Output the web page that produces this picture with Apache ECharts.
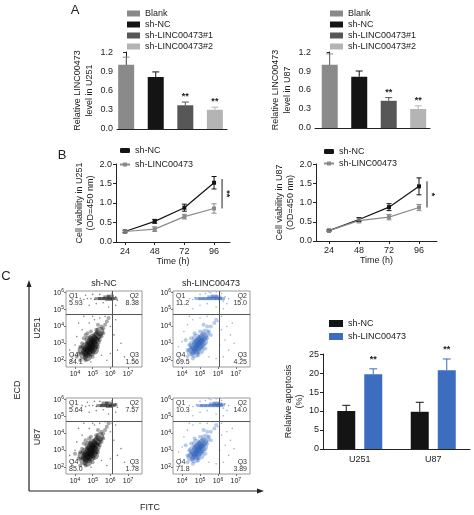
<!DOCTYPE html>
<html><head><meta charset="utf-8">
<script src="https://cdn.jsdelivr.net/npm/echarts@6/dist/echarts.min.js"></script>
<style>html,body{margin:0;padding:0;background:#fff}#c{width:474px;height:515px}</style>
</head><body><div id="c"></div>
<script>
// ---------- DATA ----------
const catsA = ['Blank', 'sh-NC', 'sh-LINC00473#1', 'sh-LINC00473#2'];
const relU251 = [1.00, 0.81, 0.37, 0.30];
const errU251 = [0.12, 0.08, 0.05, 0.04];
const sigU251 = ['', '', '**', '**'];
const relU87 = [1.00, 0.81, 0.43, 0.30];
const errU87 = [0.17, 0.09, 0.05, 0.05];
const sigU87 = ['', '', '**', '**'];
const ticksA = [0, 0.3, 0.6, 0.9, 1.2];

const hours = [24, 48, 72, 96];
const ncU251 = [0.27, 0.53, 0.88, 1.52];
const ncU251Err = [0.03, 0.05, 0.09, 0.16];
const kdU251 = [0.27, 0.33, 0.65, 0.86];
const kdU251Err = [0.02, 0.06, 0.06, 0.12];
const ncU87 = [0.27, 0.56, 0.88, 1.42];
const ncU87Err = [0.02, 0.05, 0.09, 0.22];
const kdU87 = [0.27, 0.53, 0.62, 0.87];
const kdU87Err = [0.02, 0.06, 0.07, 0.08];
const sigB = ['**', '*'];
const ticksB = [0, 0.5, 1.0, 1.5, 2.0];

const apopCats = ['U251', 'U87'];
const apopNC = [10.0, 9.8];
const apopNCErr = [1.5, 2.5];
const apopKD = [19.7, 20.7];
const apopKDErr = [1.4, 3.0];
const sigC = ['**', '**'];
const ticksC = [0, 5, 10, 15, 20, 25];

// flow cytometry: quadrant percentages [Q1, Q2, Q3, Q4]
const quadNCU251 = [5.93, 8.38, 1.56, 84.1];
const quadKDU251 = [11.2, 15.0, 4.25, 69.5];
const quadNCU87 = [5.64, 7.57, 1.78, 85.0];
const quadKDU87 = [10.3, 14.0, 3.89, 71.8];
const gateFITC = 6.08;   // log10
const gateECD = 4.75;    // log10
const flowXTicks = [4, 5, 6, 7];
const flowYTicks = [2, 3, 4, 5, 6];

// events (log10 FITC, log10 ECD) estimated from the dot plots: dense / medium / sparse / top band
const ncU251Dense = [[4.5,2.3],[4.6,2.5],[4.7,2.4],[4.7,2.7],[4.8,2.6],[4.8,2.9],[4.9,2.5],[4.9,2.8],[4.9,3.1],[5.0,2.7],[5.0,3.0],[5.1,2.9],[5.1,3.2],[5.2,3.1],[5.2,3.4],[5.3,3.5],[4.6,2.8],[4.4,2.6],[5.0,3.3],[4.8,3.2],[5.4,3.7],[4.7,2.2],[5.1,2.6]];
const ncU251Mid = [[4.3,2.0],[4.2,2.4],[4.4,3.0],[4.5,3.3],[4.6,3.5],[4.7,3.6],[5.3,2.8],[5.4,3.2],[5.5,3.4],[5.6,3.9],[5.7,4.1],[5.5,4.0],[5.8,4.3],[5.9,4.5],[5.2,3.8],[4.9,3.7],[4.3,2.8],[5.6,3.6],[4.6,2.0],[5.0,2.2],[4.1,2.2],[5.3,4.1]];
const ncU251Sparse = [[3.9,2.3],[4.0,2.9],[3.8,2.0],[4.1,3.4],[4.4,3.8],[4.8,4.2],[5.1,4.4],[5.4,4.5],[6.0,4.0],[6.2,3.5],[6.4,2.6],[6.6,3.0],[6.0,2.4],[5.8,2.0],[4.2,4.2],[4.5,4.6],[5.0,4.6],[6.3,4.4],[6.8,2.2],[3.7,2.6],[4.9,1.9],[5.5,2.3],[6.1,4.7],[5.7,4.6]];
const ncU251Band = [[5.3,5.65],[5.5,5.65],[5.7,5.65],[5.9,5.6],[6.05,5.65],[6.2,5.65],[5.8,5.75],[6.0,5.8]];
const ncU251BandSparse = [[4.3,5.65],[4.5,5.6],[4.7,5.65],[4.9,5.65],[5.1,5.6],[4.6,5.85],[5.0,5.9],[5.4,5.9],[6.3,5.75],[6.4,5.55],[6.1,5.95],[5.6,5.4],[5.2,5.35],[4.8,5.25],[6.3,5.25],[5.9,5.15]];

const kdU251Dense = [[4.6,2.6],[4.7,2.8],[4.8,2.6],[4.8,3.0],[4.9,2.8],[4.9,3.1],[5.0,2.9],[5.0,3.2],[5.1,3.0],[5.1,3.3],[5.2,3.4],[4.7,2.4],[4.6,2.9],[5.0,2.6],[5.3,3.6],[4.8,3.3],[4.5,2.5],[5.2,3.1]];
const kdU251Mid = [[4.3,2.2],[4.4,2.9],[4.5,3.3],[4.7,3.6],[5.4,3.3],[5.5,3.7],[5.6,4.0],[5.4,4.0],[5.8,4.2],[5.0,3.7],[4.3,2.6],[5.3,2.7],[4.9,2.3],[5.6,3.5],[5.9,4.4],[4.6,2.1],[5.2,4.1],[4.2,3.2]];
const kdU251Sparse = [[3.9,2.4],[4.0,3.1],[4.1,3.7],[4.3,4.1],[4.6,4.4],[5.0,4.5],[5.4,4.6],[6.0,4.3],[6.2,3.8],[6.4,3.2],[6.6,2.6],[6.3,2.2],[6.5,4.0],[6.7,3.5],[5.9,2.1],[4.0,2.0],[4.4,4.6],[5.7,4.7],[6.2,4.6],[6.8,4.2],[3.8,2.8],[5.5,2.2],[6.1,2.9],[6.9,3.0]];
const kdU251Band = [[4.9,5.65],[5.1,5.65],[5.3,5.65],[5.5,5.65],[5.7,5.65],[5.9,5.65],[6.05,5.65],[6.2,5.65],[5.6,5.75],[5.8,5.8],[6.0,5.75]];
const kdU251BandSparse = [[4.4,5.65],[4.6,5.6],[4.7,5.7],[5.0,5.9],[5.3,5.95],[5.6,6.0],[5.9,6.05],[6.2,5.95],[6.3,5.5],[6.4,5.75],[6.5,5.35],[6.3,5.05],[5.9,5.15],[5.4,5.35],[5.0,5.25],[4.6,5.05],[6.1,6.05],[5.5,6.05],[6.6,5.65]];

const ncU87Dense = [[4.5,2.4],[4.6,2.6],[4.7,2.5],[4.7,2.8],[4.8,2.7],[4.8,3.0],[4.9,2.6],[4.9,2.9],[4.9,3.2],[5.0,2.8],[5.0,3.1],[5.1,3.0],[5.1,3.3],[5.2,3.2],[5.2,3.5],[5.3,3.6],[4.6,2.9],[4.4,2.7],[5.0,3.4],[4.8,3.3],[5.4,3.8],[4.7,2.3],[5.1,2.7]];
const ncU87Mid = [[4.3,2.1],[4.2,2.5],[4.4,3.1],[4.5,3.4],[4.6,3.6],[4.8,3.7],[5.3,2.9],[5.4,3.3],[5.5,3.5],[5.6,4.0],[5.7,4.2],[5.5,4.1],[5.8,4.4],[5.9,4.6],[5.2,3.9],[4.9,3.8],[4.3,2.9],[5.6,3.7],[4.6,2.1],[5.0,2.3],[4.0,2.8],[5.3,4.2]];
const ncU87Sparse = [[3.9,2.4],[4.0,3.0],[3.8,2.1],[4.1,3.5],[4.4,3.9],[4.8,4.3],[5.1,4.5],[5.4,4.6],[6.0,4.1],[6.2,3.6],[6.4,2.7],[6.6,3.1],[6.0,2.5],[5.8,2.1],[4.2,4.3],[4.5,4.6],[5.0,4.6],[6.3,4.5],[6.8,2.3],[3.7,2.7],[4.9,2.0],[5.5,2.4],[6.1,4.6],[5.7,4.7]];
const ncU87Band = [[5.4,5.65],[5.6,5.65],[5.8,5.65],[5.95,5.6],[6.1,5.65],[6.2,5.7],[5.9,5.8],[5.7,5.8]];
const ncU87BandSparse = [[4.4,5.65],[4.6,5.6],[4.8,5.65],[5.0,5.65],[5.2,5.6],[4.7,5.85],[5.1,5.9],[5.4,5.9],[6.3,5.75],[6.4,5.55],[6.1,5.95],[5.6,5.4],[5.2,5.35],[4.8,5.25],[6.3,5.25],[5.9,5.15]];

const kdU87Dense = [[4.6,2.7],[4.7,2.9],[4.8,2.7],[4.8,3.1],[4.9,2.9],[4.9,3.2],[5.0,3.0],[5.0,3.3],[5.1,3.1],[5.1,3.4],[5.2,3.5],[4.7,2.5],[4.6,3.0],[5.0,2.7],[5.3,3.7],[4.8,3.4],[4.5,2.6],[5.2,3.2]];
const kdU87Mid = [[4.3,2.3],[4.4,3.0],[4.5,3.4],[4.7,3.7],[5.4,3.4],[5.5,3.8],[5.6,4.1],[5.4,4.1],[5.8,4.3],[5.0,3.8],[4.3,2.7],[5.3,2.8],[4.9,2.4],[5.6,3.6],[5.9,4.5],[4.6,2.2],[5.2,4.2],[4.2,3.3]];
const kdU87Sparse = [[3.9,2.5],[4.0,3.2],[4.1,3.8],[4.3,4.2],[4.6,4.5],[5.0,4.6],[5.4,4.6],[6.0,4.4],[6.2,3.9],[6.4,3.3],[6.6,2.7],[6.3,2.3],[6.5,4.1],[6.7,3.6],[5.9,2.2],[4.0,2.1],[4.4,4.6],[5.7,4.7],[6.2,4.6],[6.8,4.3],[3.8,2.9],[5.5,2.3],[6.1,3.0],[6.9,3.1]];
const kdU87Band = [[5.0,5.65],[5.2,5.65],[5.4,5.65],[5.6,5.65],[5.8,5.65],[5.95,5.65],[6.1,5.65],[6.2,5.7],[5.7,5.75],[5.9,5.8],[6.05,5.75]];
const kdU87BandSparse = [[4.4,5.65],[4.6,5.6],[4.8,5.7],[5.0,5.9],[5.3,5.95],[5.6,6.0],[5.9,6.05],[6.2,5.95],[6.3,5.5],[6.4,5.75],[6.5,5.35],[6.3,5.05],[5.9,5.15],[5.4,5.35],[5.0,5.25],[4.6,5.05],[6.1,6.05],[5.5,6.05],[6.6,5.65]];

// ---------- STYLE ----------
const FONT = '"Liberation Sans", Arial, sans-serif';
const TXT = '#222';
const colorsA = ['#8a8a8a', '#141414', '#575757', '#b4b4b4'];
const NC_COLOR = '#141414', KD_LINE = '#8a8a8a', KD_BLUE = '#3d6dbf';
const EPS = 1.0004; // tiny headroom so the top tick label is kept

const chart = echarts.init(document.getElementById('c'), null, {renderer: 'canvas'});

const grids = [
  {left: 117, top: 52, width: 110, height: 77},   // 0 A U251
  {left: 315, top: 52, width: 115, height: 76},   // 1 A U87
  {left: 116, top: 164, width: 114, height: 78},  // 2 B U251
  {left: 316, top: 164, width: 121, height: 77},  // 3 B U87
  {left: 66, top: 291, width: 76, height: 76},    // 4 flow NC U251
  {left: 173, top: 291, width: 77, height: 76},   // 5 flow KD U251
  {left: 66, top: 398, width: 76, height: 76},    // 6 flow NC U87
  {left: 173, top: 398, width: 77, height: 76},   // 7 flow KD U87
  {left: 323, top: 354, width: 147, height: 95}   // 8 C bars
];

const axLine = {show: true, lineStyle: {color: '#222', width: 1}};
const tickOut = (vals) => ({show: true, length: 3, customValues: vals, lineStyle: {color: '#222'}});
const lab = (fs) => ({color: TXT, fontFamily: FONT, fontSize: fs});
const lastOf = a => a[a.length - 1];

const xAxes = [], yAxes = [];
// A
xAxes.push({gridIndex: 0, type: 'value', min: -0.31, max: 3.41, axisLine: axLine, axisTick: {show: false}, axisLabel: {show: false}, splitLine: {show: false}});
xAxes.push({gridIndex: 1, type: 'value', min: -0.5, max: 3.4, axisLine: axLine, axisTick: {show: false}, axisLabel: {show: false}, splitLine: {show: false}});
const yA = (gi, nm) => ({gridIndex: gi, type: 'value', min: 0, max: lastOf(ticksA) * EPS, axisLine: axLine, axisTick: tickOut(ticksA),
  axisLabel: Object.assign(lab(9), {margin: 4, customValues: ticksA, showMaxLabel: true, formatter: v => v.toFixed(1)}), splitLine: {show: false},
  name: nm, nameLocation: 'middle', nameRotate: 90, nameGap: 21, nameTextStyle: Object.assign(lab(9), {lineHeight: 12})});
yAxes.push(yA(0, 'Relative LINC00473\nlevel in U251'));
yAxes.push(yA(1, 'Relative LINC00473\nlevel in U87'));
// B
const xB = (gi, mn, mx) => ({gridIndex: gi, type: 'value', min: mn, max: mx, axisLine: axLine,
  axisTick: tickOut(hours), axisLabel: Object.assign(lab(9), {customValues: hours, margin: 5}),
  splitLine: {show: false}, name: 'Time (h)', nameLocation: 'middle', nameGap: 14, nameTextStyle: lab(9)});
xAxes.push(xB(2, 16.7, 108.9));
xAxes.push(xB(3, 13.6, 110.4));
const yB = (gi, nm) => ({gridIndex: gi, type: 'value', min: 0, max: lastOf(ticksB) * EPS, axisLine: axLine, axisTick: tickOut(ticksB),
  axisLabel: Object.assign(lab(9), {margin: 4, customValues: ticksB, showMaxLabel: true, formatter: v => v.toFixed(1)}), splitLine: {show: false},
  name: nm, nameLocation: 'middle', nameRotate: 90, nameGap: 20, nameTextStyle: Object.assign(lab(9), {lineHeight: 11})});
yAxes.push(yB(2, 'Cell viability in U251\n(OD=450 nm)'));
yAxes.push(yB(3, 'Cell viability in U87\n(OD=450 nm)'));
// flow
const supFmt = v => '10{s|' + Math.round(v) + '}';
const supRich = {s: {fontSize: 5, fontFamily: FONT, color: TXT, verticalAlign: 'top', padding: [0, 0, 4, 0]}};
for (let g = 4; g <= 7; g++) {
  xAxes.push({gridIndex: g, type: 'value', min: 3.49, max: 7.79, axisLine: {show: false},
    axisTick: {show: true, length: 2, customValues: flowXTicks, lineStyle: {color: '#777'}},
    axisLabel: Object.assign(lab(7), {customValues: flowXTicks, margin: 3, formatter: supFmt, rich: supRich}), splitLine: {show: false}});
  yAxes.push({gridIndex: g, type: 'value', min: 1.6, max: 6.1, axisLine: {show: false},
    axisTick: {show: true, length: 2, customValues: flowYTicks, lineStyle: {color: '#777'}},
    axisLabel: Object.assign(lab(7), {customValues: flowYTicks, margin: 2, formatter: supFmt, rich: supRich}), splitLine: {show: false}});
}
grids.forEach((g, i) => { if (i >= 4 && i <= 7) { g.show = true; g.borderColor = '#9a9a9a'; g.borderWidth = 1; g.backgroundColor = '#fff'; } });
// C
xAxes.push({gridIndex: 8, type: 'category', data: apopCats, axisLine: axLine, axisTick: {show: false},
  axisLabel: Object.assign(lab(9), {margin: 6})});
yAxes.push({gridIndex: 8, type: 'value', min: 0, max: lastOf(ticksC) * EPS, axisLine: axLine, axisTick: tickOut(ticksC),
  axisLabel: Object.assign(lab(9), {margin: 4, customValues: ticksC, showMaxLabel: true}), splitLine: {show: false},
  name: 'Relative apoptosis\n(%)', nameLocation: 'middle', nameRotate: 90, nameGap: 17, nameTextStyle: Object.assign(lab(9), {lineHeight: 11})});

// ---------- SERIES HELPERS ----------
function errSeries(ai, xs, ys, es, colorFn, both, cap) {
  return {type: 'custom', xAxisIndex: ai, yAxisIndex: ai, silent: true, z: 4, clip: false,
    data: xs.map((x, i) => [x, ys[i], es[i]]),
    renderItem(params, api) {
      const x = api.value(0), y = api.value(1), e = api.value(2);
      const t = api.coord([x, y + e]);
      const b = both ? api.coord([x, y - e]) : api.coord([x, y]);
      const c = colorFn(params.dataIndex);
      const st = {stroke: c, lineWidth: 1};
      const kids = [
        {type: 'line', shape: {x1: t[0], y1: t[1], x2: b[0], y2: b[1]}, style: st},
        {type: 'line', shape: {x1: t[0] - cap / 2, y1: t[1], x2: t[0] + cap / 2, y2: t[1]}, style: st}
      ];
      if (both) kids.push({type: 'line', shape: {x1: b[0] - cap / 2, y1: b[1], x2: b[0] + cap / 2, y2: b[1]}, style: st});
      return {type: 'group', children: kids};
    }};
}
function starSeries(ai, xs, ys, es, sig, gap) {
  return {type: 'custom', xAxisIndex: ai, yAxisIndex: ai, silent: true, z: 6, clip: false,
    data: xs.map((x, i) => [x, ys[i] + es[i]]),
    renderItem(params, api) {
      const s = sig[params.dataIndex];
      if (!s) return null;
      const p = api.coord([api.value(0), api.value(1)]);
      return {type: 'text', x: p[0], y: p[1] - gap,
        style: {text: s, fill: '#222', font: 'bold 9px ' + FONT, align: 'center', verticalAlign: 'bottom'}};
    }};
}

const series = [];
// A bars
[[0, relU251, errU251, sigU251], [1, relU87, errU87, sigU87]].forEach(([ai, vals, errs, sig]) => {
  catsA.forEach((c, i) => series.push({type: 'bar', name: c, xAxisIndex: ai, yAxisIndex: ai,
    barWidth: 16, barGap: '-100%', data: [[i, vals[i]]], itemStyle: {color: colorsA[i]}}));
  const idx = catsA.map((c, i) => i);
  series.push(errSeries(ai, idx, vals, errs, i => colorsA[i], false, 7));
  series.push(starSeries(ai, idx, vals, errs, sig, 1));
});
// B lines
[[2, ncU251, ncU251Err, kdU251, kdU251Err, 0], [3, ncU87, ncU87Err, kdU87, kdU87Err, 1]].forEach(([ai, nc, nce, kd, kde, k]) => {
  series.push({type: 'line', name: 'sh-NC', xAxisIndex: ai, yAxisIndex: ai, data: hours.map((h, i) => [h, nc[i]]),
    symbol: 'rect', symbolSize: 4, lineStyle: {color: NC_COLOR, width: 1.2}, itemStyle: {color: NC_COLOR}, z: 3});
  series.push({type: 'line', name: 'sh-LINC00473', xAxisIndex: ai, yAxisIndex: ai, data: hours.map((h, i) => [h, kd[i]]),
    symbol: 'rect', symbolSize: 4, lineStyle: {color: KD_LINE, width: 1.2}, itemStyle: {color: KD_LINE}, z: 3});
  series.push(errSeries(ai, hours, nc, nce, () => NC_COLOR, true, 5));
  series.push(errSeries(ai, hours, kd, kde, () => KD_LINE, true, 5));
  const last = hours.length - 1;
  series.push({type: 'custom', xAxisIndex: ai, yAxisIndex: ai, silent: true, clip: false, z: 6,
    data: [[hours[last], kd[last], nc[last] + nce[last] * 0.6]],
    renderItem(params, api) {
      const lo = api.coord([api.value(0), api.value(1)]);
      const hi = api.coord([api.value(0), api.value(2)]);
      const x = lo[0] + 8;
      return {type: 'group', children: [
        {type: 'line', shape: {x1: x, y1: hi[1], x2: x, y2: lo[1]}, style: {stroke: '#222', lineWidth: 1}},
        {type: 'text', x: x + 4, y: (hi[1] + lo[1]) / 2, rotation: -Math.PI / 2,
          style: {text: sigB[k], fill: '#222', font: 'bold 9px ' + FONT, align: 'center', verticalAlign: 'middle'}}
      ]};
    }});
});
// flow plots
function flowSeries(ai, dense, mid, sparse, band, bandSparse, quad, blue) {
  const col = blue ? '#2a5fb8' : '#0a0a0a';
  const col2 = blue ? '#4a7fd0' : '#2a2a2a';
  const col3 = blue ? '#7da2dc' : '#666';
  const base = {type: 'scatter', xAxisIndex: ai, yAxisIndex: ai, silent: true};
  series.push(Object.assign({}, base, {data: sparse, symbolSize: 1.6, itemStyle: {color: col3, opacity: 0.8}}));
  series.push(Object.assign({}, base, {data: bandSparse, symbolSize: 1.6, itemStyle: {color: col3, opacity: 0.8}}));
  series.push(Object.assign({}, base, {data: mid, symbolSize: 4, itemStyle: {color: col2, opacity: 0.4}}));
  series.push(Object.assign({}, base, {data: dense, symbolSize: 9, itemStyle: {color: col, opacity: blue ? 0.35 : 0.42}}));
  series.push(Object.assign({}, base, {data: band, symbolSize: [7, 3], symbol: 'rect', itemStyle: {color: col, opacity: 0.45},
    markLine: {silent: true, symbol: 'none', label: {show: false}, lineStyle: {color: '#555', width: 1, type: 'solid'},
      data: [{xAxis: gateFITC}, {yAxis: gateECD}]}}));
  series.push({type: 'custom', xAxisIndex: ai, yAxisIndex: ai, silent: true, clip: false, z: 10,
    data: [quad],
    renderItem(params, api) {
      const cs = params.coordSys;
      const L = cs.x + 3, R = cs.x + cs.width - 3, T = cs.y + 1.5, B = cs.y + cs.height - 1.5;
      const f = '7px ' + FONT;
      const t = (s, x, y, al, va) => ({type: 'text', x, y, style: {text: s, fill: '#333', font: f, align: al, verticalAlign: va}});
      const v = i => api.value(i).toPrecision(3);
      return {type: 'group', children: [
        t('Q1', L, T, 'left', 'top'), t(v(0), L, T + 7, 'left', 'top'),
        t('Q2', R, T, 'right', 'top'), t(v(1), R, T + 7, 'right', 'top'),
        t('Q4', L, B - 7, 'left', 'bottom'), t(v(3), L, B, 'left', 'bottom'),
        t('Q3', R, B - 7, 'right', 'bottom'), t(v(2), R, B, 'right', 'bottom')
      ]};
    }});
}
flowSeries(4, ncU251Dense, ncU251Mid, ncU251Sparse, ncU251Band, ncU251BandSparse, quadNCU251, false);
flowSeries(5, kdU251Dense, kdU251Mid, kdU251Sparse, kdU251Band, kdU251BandSparse, quadKDU251, true);
flowSeries(6, ncU87Dense, ncU87Mid, ncU87Sparse, ncU87Band, ncU87BandSparse, quadNCU87, false);
flowSeries(7, kdU87Dense, kdU87Mid, kdU87Sparse, kdU87Band, kdU87BandSparse, quadKDU87, true);
// C bars
series.push({type: 'bar', name: 'sh-NC ', xAxisIndex: 8, yAxisIndex: 8, data: apopNC, barWidth: 18, barGap: '50%', itemStyle: {color: NC_COLOR}});
series.push({type: 'bar', name: 'sh-LINC00473 ', xAxisIndex: 8, yAxisIndex: 8, data: apopKD, barWidth: 18, barGap: '50%', itemStyle: {color: KD_BLUE}});
function errC(vals, errs, color, sgn, sig) {
  series.push({type: 'custom', xAxisIndex: 8, yAxisIndex: 8, silent: true, z: 5, clip: false,
    data: vals.map((v, i) => [i, v, errs[i]]),
    renderItem(params, api) {
      const t = api.coord([api.value(0), api.value(1) + api.value(2)]);
      const b = api.coord([api.value(0), api.value(1)]);
      const x = t[0] + sgn * 13.5;
      const st = {stroke: color, lineWidth: 1};
      const kids = [
        {type: 'line', shape: {x1: x, y1: t[1], x2: x, y2: b[1]}, style: st},
        {type: 'line', shape: {x1: x - 4, y1: t[1], x2: x + 4, y2: t[1]}, style: st}
      ];
      if (sig) kids.push({type: 'text', x: x, y: t[1] - 5, style: {text: sig[params.dataIndex], fill: '#222', font: 'bold 9px ' + FONT, align: 'center', verticalAlign: 'bottom'}});
      return {type: 'group', children: kids};
    }});
}
errC(apopNC, apopNCErr, NC_COLOR, -1, null);
errC(apopKD, apopKDErr, KD_BLUE, 1, sigC);

// ---------- LEGENDS ----------
const legTxt = Object.assign(lab(9), {lineHeight: 11});
const legends = [
  {data: catsA, left: 122, top: 3, orient: 'vertical', itemWidth: 13, itemHeight: 6, itemGap: 0, textStyle: legTxt, icon: 'rect', selectedMode: false},
  {data: catsA, left: 325, top: 3, orient: 'vertical', itemWidth: 13, itemHeight: 6, itemGap: 0, textStyle: legTxt, icon: 'rect', selectedMode: false},
  {data: ['sh-NC', 'sh-LINC00473'], left: 114, top: 140, orient: 'vertical', itemWidth: 10, itemHeight: 5, itemGap: 3, textStyle: legTxt, selectedMode: false},
  {data: ['sh-NC', 'sh-LINC00473'], left: 318, top: 141, orient: 'vertical', itemWidth: 10, itemHeight: 5, itemGap: 1, textStyle: legTxt, selectedMode: false},
  {data: ['sh-NC ', 'sh-LINC00473 '], left: 324, top: 313, orient: 'vertical', itemWidth: 14, itemHeight: 7, itemGap: 2, textStyle: legTxt, icon: 'rect', selectedMode: false}
];

// ---------- GRAPHIC (panel letters, axis arrows, labels) ----------
const gtext = (s, x, y, fs, opt) => Object.assign({type: 'text', x, y, style: {text: s, fill: TXT, font: fs + 'px ' + FONT, align: 'center', verticalAlign: 'middle'}}, opt || {});
const graphic = [
  gtext('A', 75, 10, 13), gtext('B', 62, 155, 13), gtext('C', 6, 276, 13),
  gtext('sh-NC', 104, 284, 9), gtext('sh-LINC00473', 211, 284, 9),
  gtext('U251', 38, 328, 9, {rotation: Math.PI / 2}), gtext('U87', 38, 437, 9, {rotation: Math.PI / 2}),
  gtext('ECD', 18, 390, 9, {rotation: Math.PI / 2}), gtext('FITC', 150, 508, 9),
  {type: 'line', shape: {x1: 29, y1: 491, x2: 29, y2: 284}, style: {stroke: '#222', lineWidth: 1.2}},
  {type: 'polygon', shape: {points: [[29, 280], [26.5, 287], [31.5, 287]]}, style: {fill: '#222'}},
  {type: 'line', shape: {x1: 29, y1: 491, x2: 259, y2: 491}, style: {stroke: '#222', lineWidth: 1.2}},
  {type: 'polygon', shape: {points: [[264, 491], [257, 488.5], [257, 493.5]]}, style: {fill: '#222'}}
];

chart.setOption({
  backgroundColor: '#fff',
  animation: false,
  textStyle: {fontFamily: FONT},
  grid: grids, xAxis: xAxes, yAxis: yAxes, series, legend: legends, graphic
});
</script></body></html>
